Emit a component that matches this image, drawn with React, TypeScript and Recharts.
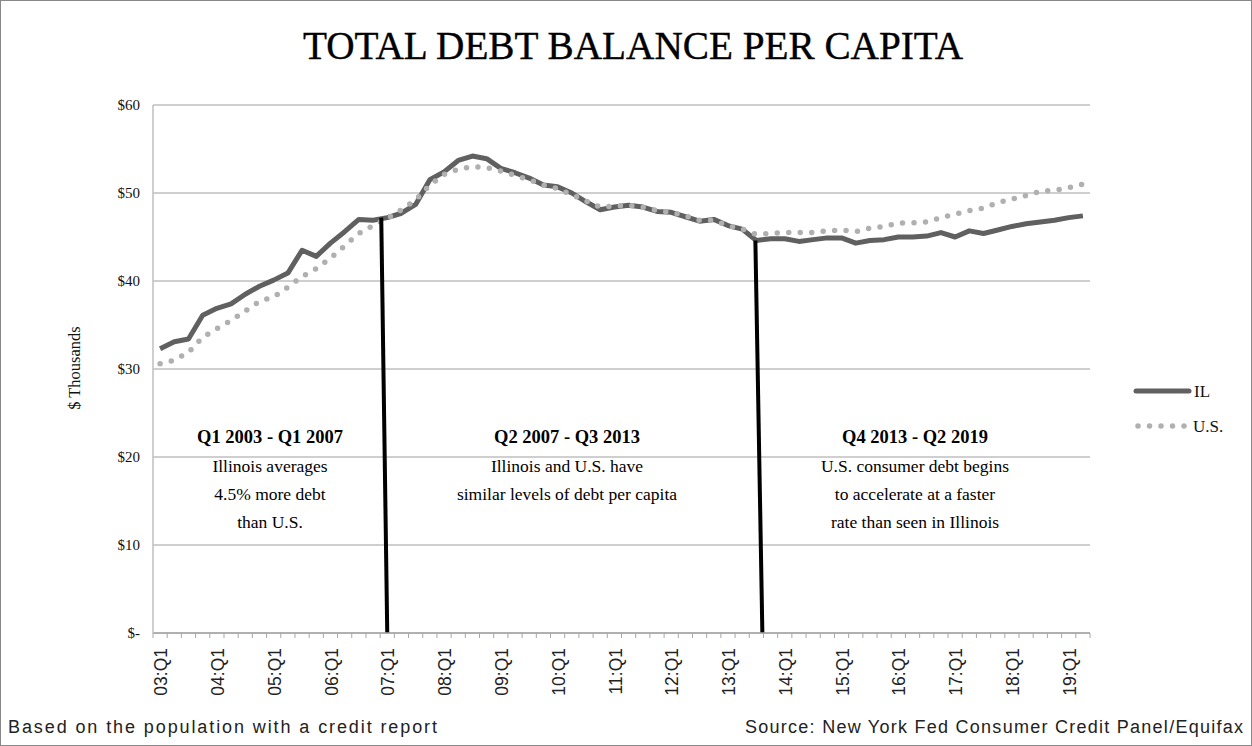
import { LineChart, Line, XAxis, YAxis, CartesianGrid, ReferenceLine } from 'recharts'

// quarters 2003 Q1 .. 2019 Q2
const quarters = [
  '03:Q1', '03:Q2', '03:Q3', '03:Q4', '04:Q1', '04:Q2', '04:Q3', '04:Q4',
  '05:Q1', '05:Q2', '05:Q3', '05:Q4', '06:Q1', '06:Q2', '06:Q3', '06:Q4',
  '07:Q1', '07:Q2', '07:Q3', '07:Q4', '08:Q1', '08:Q2', '08:Q3', '08:Q4',
  '09:Q1', '09:Q2', '09:Q3', '09:Q4', '10:Q1', '10:Q2', '10:Q3', '10:Q4',
  '11:Q1', '11:Q2', '11:Q3', '11:Q4', '12:Q1', '12:Q2', '12:Q3', '12:Q4',
  '13:Q1', '13:Q2', '13:Q3', '13:Q4', '14:Q1', '14:Q2', '14:Q3', '14:Q4',
  '15:Q1', '15:Q2', '15:Q3', '15:Q4', '16:Q1', '16:Q2', '16:Q3', '16:Q4',
  '17:Q1', '17:Q2', '17:Q3', '17:Q4', '18:Q1', '18:Q2', '18:Q3', '18:Q4',
  '19:Q1', '19:Q2',
]

// $ thousands per capita
const illinois = [
  32.3, 33.1, 33.4, 36.1, 36.9, 37.4, 38.5, 39.4, 40.1, 40.9, 43.5, 42.8,
  44.3, 45.6, 47.0, 46.9, 47.2, 47.7, 48.7, 51.5, 52.4, 53.7, 54.2, 53.9,
  52.8, 52.3, 51.7, 50.9, 50.7, 50.0, 49.0, 48.1, 48.4, 48.6, 48.4, 47.9,
  47.8, 47.3, 46.8, 47.0, 46.3, 45.9, 44.6, 44.8, 44.8, 44.5, 44.7, 44.9,
  44.9, 44.3, 44.6, 44.7, 45.0, 45.0, 45.1, 45.5, 45.0, 45.7, 45.4, 45.8,
  46.2, 46.5, 46.7, 46.9, 47.2, 47.4,
]

const unitedStates = [
  30.6, 31.0, 31.9, 33.6, 34.6, 35.5, 36.6, 37.7, 38.2, 39.3, 40.5, 41.4,
  42.6, 44.0, 45.4, 46.3, 47.1, 48.1, 49.2, 50.9, 52.1, 52.7, 53.0, 52.9,
  52.5, 52.0, 51.5, 50.9, 50.5, 49.8, 49.1, 48.4, 48.5, 48.6, 48.4, 48.0,
  47.8, 47.4, 46.9, 46.9, 46.3, 45.9, 45.3, 45.4, 45.5, 45.5, 45.5, 45.7,
  45.8, 45.6, 46.0, 46.2, 46.6, 46.6, 46.7, 47.2, 47.6, 48.0, 48.3, 48.9,
  49.3, 49.7, 50.2, 50.3, 50.6, 51.0,
]

const yTicks = [0, 10, 20, 30, 40, 50, 60]

const periods = [
  { cx: 270, head: 'Q1 2003 - Q1 2007', lines: ['Illinois averages', '4.5% more debt', 'than U.S.'] },
  { cx: 567, head: 'Q2 2007 - Q3 2013', lines: ['Illinois and U.S. have', 'similar levels of debt per capita'] },
  { cx: 915, head: 'Q4 2013 - Q2 2019', lines: ['U.S. consumer debt begins', 'to accelerate at a faster', 'rate than seen in Illinois'] },
]

// period break markers: [category, IL value at top, top x nudge, bottom x nudge]
const breaks: [string, number, number, number][] = [
  ['07:Q1', 47.2, -6, 0],
  ['13:Q3', 44.6, -1, 6],
]

const data = quarters.map((q, i) => ({ q, il: illinois[i], us: unitedStates[i] }))

const W = 1252
const H = 746
const PLOT_W = 937
const STEP = PLOT_W / quarters.length
const SERIF = '"Liberation Serif", "Times New Roman", serif'
const SANS = '"Liberation Sans", Arial, sans-serif'

function QuarterTick(props: any) {
  const { x, y, payload, index } = props
  const label: string = payload.value
  return (
    <g>
      <line x1={x - STEP / 2} y1={y} x2={x - STEP / 2} y2={y + 5} stroke="#a6a6a6" />
      {index === quarters.length - 1 ? (
        <line x1={x + STEP / 2} y1={y} x2={x + STEP / 2} y2={y + 5} stroke="#a6a6a6" />
      ) : null}
      {label.endsWith('Q1') ? (
        <text
          transform={`translate(${x + 1},${y + 15}) rotate(-90)`}
          textAnchor="end"
          dy="0.35em"
          fontFamily={SANS}
          fontSize={17.5}
          fill="#222"
        >
          {label}
        </text>
      ) : null}
    </g>
  )
}

export default function App() {
  return (
    <div style={{ position: 'absolute', left: 0, top: 0, width: W, height: H, background: '#fff' }}>
      <LineChart width={W} height={H} data={data} margin={{ top: 105, right: 162, bottom: 0, left: 0 }}>
        <CartesianGrid vertical={false} stroke="#bfbfbf" strokeWidth={1.5} />
        <XAxis
          dataKey="q"
          interval={0}
          height={113}
          tickSize={0}
          tickMargin={0}
          tickLine={false}
          axisLine={{ stroke: '#a6a6a6', strokeWidth: 1.5 }}
          padding={{ left: STEP / 2, right: STEP / 2 }}
          tick={<QuarterTick />}
        />
        <YAxis
          width={153}
          domain={[0, 60]}
          ticks={yTicks}
          interval={0}
          tickLine={false}
          tickSize={6}
          tickMargin={7}
          axisLine={{ stroke: '#bfbfbf', strokeWidth: 1.5 }}
          tickFormatter={(v: number) => (v === 0 ? '$-' : `$${v}`)}
          tick={{ fontFamily: SERIF, fontSize: 15, fill: '#111' }}
        />
        <Line
          dataKey="il"
          stroke="#606060"
          strokeWidth={5}
          dot={false}
          strokeLinejoin="round"
          isAnimationActive={false}
        />
        <Line
          dataKey="us"
          stroke="#b0b0b0"
          strokeWidth={5.5}
          strokeDasharray="0 11.5"
          strokeLinecap="round"
          dot={false}
          isAnimationActive={false}
        />
        {breaks.map(([cat, top, dxTop, dxBottom]) => (
          <ReferenceLine
            key={cat}
            segment={[{ x: cat, y: top }, { x: cat, y: 0 }]}
            shape={(p: any) => (
              <line x1={p.x1 + dxTop} y1={p.y1} x2={p.x2 + dxBottom} y2={p.y2} stroke="#000" strokeWidth={4} />
            )}
          />
        ))}
      </LineChart>

      <svg width={W} height={H} style={{ position: 'absolute', left: 0, top: 0, pointerEvents: 'none' }}>
        <rect x={0.5} y={0.5} width={W - 1} height={H - 1} fill="none" stroke="#888" />
        <text
          x={303}
          y={59}
          fontFamily={SERIF}
          fontSize={41}
          fill="#000"
          stroke="#000"
          strokeWidth={0.4}
          textLength={660}
          lengthAdjust="spacingAndGlyphs"
        >
          TOTAL DEBT BALANCE PER CAPITA
        </text>
        <text
          transform="translate(80,368) rotate(-90)"
          textAnchor="middle"
          fontFamily={SERIF}
          fontSize={16.5}
          fill="#111"
        >
          $ Thousands
        </text>

        {periods.map((p) => (
          <g key={p.head} fontFamily={SERIF} fill="#000" textAnchor="middle">
            <text x={p.cx} y={443} fontWeight="bold" fontSize={18.5}>{p.head}</text>
            {p.lines.map((t, i) => (
              <text key={t} x={p.cx} y={472 + i * 28} fontSize={17.5}>{t}</text>
            ))}
          </g>
        ))}

        <line x1={1136} y1={391} x2={1189} y2={391} stroke="#606060" strokeWidth={5} strokeLinecap="round" />
        <text x={1194} y={397} fontFamily={SERIF} fontSize={17} fill="#111">IL</text>
        <line
          x1={1138}
          y1={426}
          x2={1188}
          y2={426}
          stroke="#b0b0b0"
          strokeWidth={5.5}
          strokeDasharray="0 11.5"
          strokeLinecap="round"
        />
        <text x={1193} y={432} fontFamily={SERIF} fontSize={17} fill="#111">U.S.</text>

        <text x={8} y={733} fontFamily={SANS} fontSize={18} fill="#222" textLength={429} lengthAdjust="spacing">
          Based on the population with a credit report
        </text>
        <text x={745} y={733} fontFamily={SANS} fontSize={18} fill="#222" textLength={498} lengthAdjust="spacing">
          Source: New York Fed Consumer Credit Panel/Equifax
        </text>
      </svg>
    </div>
  )
}
